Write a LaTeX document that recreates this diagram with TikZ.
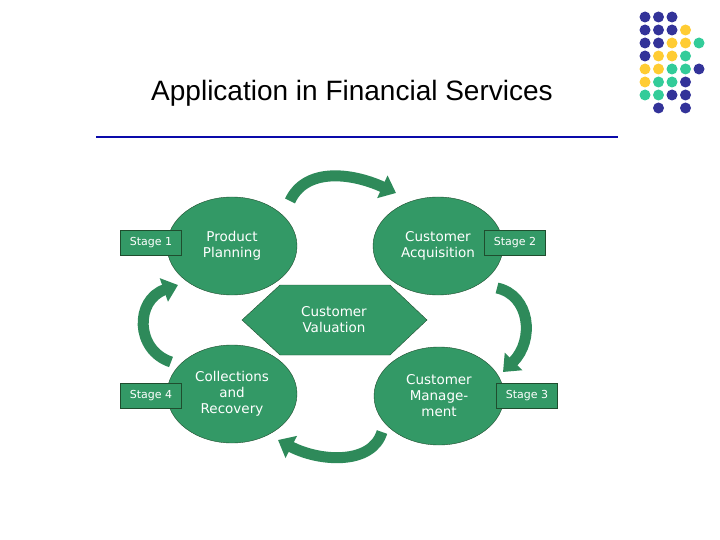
\documentclass[tikz,border=0pt]{standalone}
\usepackage{fontspec}
\setmainfont{DejaVu Sans}
\newfontfamily\titlefont{Liberation Sans}
\usetikzlibrary{positioning,arrows.meta,shapes.geometric}
\definecolor{stagegreen}{HTML}{339966}
\definecolor{edgegreen}{HTML}{1F4D2E}
\definecolor{bandgreen}{HTML}{2E8A5A}
\definecolor{linkblue}{HTML}{0A0AAA}
\definecolor{dotnavy}{HTML}{333399}
\definecolor{dotgold}{HTML}{FFCC33}
\definecolor{dotteal}{HTML}{33CC99}

\begin{document}
\begin{tikzpicture}[x=1pt,y=-1pt,
        phase/.style={draw=edgegreen, fill=stagegreen, ellipse, minimum width=130pt, minimum height=98pt, inner sep=0pt, align=center, text=white, font=\fontsize{13.5}{16}\selectfont},
        tag/.style={draw=edgegreen, fill=stagegreen, minimum width=61pt, minimum height=25pt, text=white, font=\fontsize{11}{13}\selectfont},
        turn/.style={line width=11pt, draw=bandgreen, -{Triangle[width=24pt,length=15pt]}}
    ]
    \useasboundingbox (0,0) rectangle (720,540);

    % title
    \node[font=\titlefont\fontsize{28}{32}\selectfont] (title) at (352,93) {Application in Financial Services};
    \coordinate (ruleL) at (96,137);
    \coordinate (ruleR) at (618,137);
    \draw[linkblue, line width=2pt] (ruleL) -- (ruleR);

    % dots
    \foreach \c/\r/\col in {0/0/dotnavy,1/0/dotnavy,2/0/dotnavy,
        0/1/dotnavy,1/1/dotnavy,2/1/dotnavy,3/1/dotgold,
        0/2/dotnavy,1/2/dotnavy,2/2/dotgold,3/2/dotgold,4/2/dotteal,
        0/3/dotnavy,1/3/dotgold,2/3/dotgold,3/3/dotteal,
        0/4/dotgold,1/4/dotgold,2/4/dotteal,3/4/dotteal,4/4/dotnavy,
        0/5/dotgold,1/5/dotteal,2/5/dotteal,3/5/dotnavy,
        0/6/dotteal,1/6/dotteal,2/6/dotnavy,3/6/dotnavy,
        1/7/dotnavy,3/7/dotnavy}
        \fill[\col] (645+13.5*\c,17+13*\r) circle (5.5);

    % stages
    \node[phase] (plan) at (232,246) {Product\\Planning};
    \node[phase] (acq) at (438,246) {Customer\\Acquisition};
    \node[phase] (coll) at (232,394) {Collections\\and\\Recovery};
    \node[phase] (mgmt) at (439,396) {Customer\\Manage-\\ment};

    % centre hexagon
    \draw[edgegreen, fill=stagegreen] (242,320) -- (280,285) -- (390,285) -- (427,320) -- (390,355) -- (280,355) -- cycle;
    \node[align=center, text=white, font=\fontsize{13.5}{16}\selectfont] (val) at (334,320) {Customer\\Valuation};

    \node[tag] (s1) at (151,243) {Stage 1};
    \node[tag] (s2) at (515,243) {Stage 2};
    \node[tag] (s3) at (527,396) {Stage 3};
    \node[tag] (s4) at (151,396) {Stage 4};

    % cycle arrows
    \coordinate (t0) at (290,201);
    \coordinate (t1) at (396,193);
    \coordinate (r0) at (497,288);
    \coordinate (r1) at (503,372);
    \coordinate (b0) at (382,432);
    \coordinate (b1) at (278,440);
    \coordinate (l0) at (171,362);
    \coordinate (l1) at (178,285);
    \draw[turn] (t0) .. controls (305,168) and (350,172) .. (t1);
    \draw[turn] (r0) .. controls (530,295) and (535,340) .. (r1);
    \draw[turn] (b0) .. controls (372,465) and (320,462) .. (b1);
    \draw[turn] (l0) .. controls (135,350) and (135,300) .. (l1);

\end{tikzpicture}
\end{document}
